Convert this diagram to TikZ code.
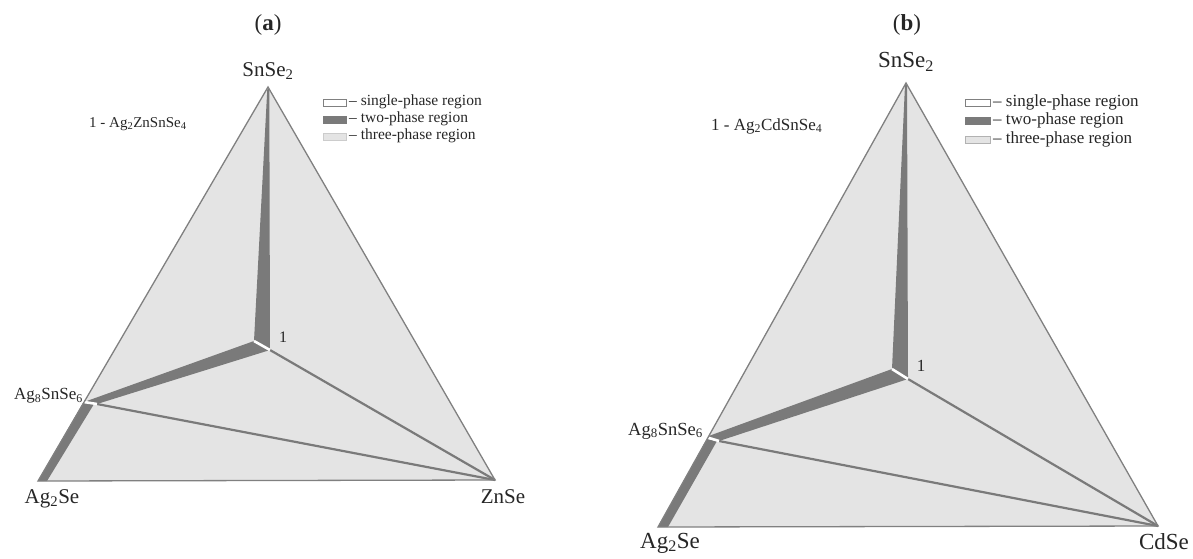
\documentclass[tikz,border=0pt]{standalone}
\usepackage{fontspec}
\setmainfont{Liberation Serif}
\usetikzlibrary{calc}
\newcommand{\setfs}[1]{\fontsize{#1}{#1}\selectfont}
\definecolor{lightfill}{RGB}{228,228,228}
\definecolor{bandgray}{RGB}{122,122,122}
\definecolor{edgegray}{RGB}{128,128,128}
\begin{document}
\begin{tikzpicture}[x=1pt,y=-1pt,
  tri/.style={fill=lightfill},
  edge/.style={draw=edgegray, line width=1.3pt, line join=miter},
  band/.style={fill=bandgray},
  sbar/.style={draw=white, line width=2.6pt},
  tie/.style={draw=bandgray, line width=2.2pt},
  lab/.style={inner sep=0pt, text=black!85},
  legbox/.style={draw=edgegray, line width=0.6pt, minimum width=23pt, minimum height=7pt, inner sep=0pt},
  legtxt/.style={inner sep=0pt, anchor=west, text=black!85}]
\useasboundingbox (0,0) rectangle (1193,558);

% ================= panel (a) =================
\coordinate (aT) at (268,87);
\coordinate (aL) at (38,481);
\coordinate (aR) at (495,480);
\coordinate (aJ1) at (254,341);
\coordinate (aJ2) at (270,350);
\coordinate (aM1) at (84,402);
\coordinate (aM2) at (97,404);
\fill[tri] (aT) -- (aL) -- (aR) -- cycle;
\fill[band] (267.3,89) -- (269.3,89) -- (aJ2) -- (aJ1) -- cycle;
\fill[band] (aJ1) -- (aJ2) -- (aM2) -- (aM1) -- cycle;
\fill[band] (83,403) -- (94,404) -- (47,481) -- (aL) -- cycle;
\draw[tie] (aJ2) -- (aR);
\draw[tie] (aM2) -- (aR);
\draw[sbar] (aJ1) -- (aJ2);
\draw[sbar] (aM1) -- (aM2);
\draw[edge] (aT) -- (aL) -- (aR) -- cycle;

\node[lab, font=\bfseries\setfs{23}] (aTitle) at (268,25) {\textmd{(}a\textmd{)}};
\node[lab, font=\setfs{21}] (aSn) at (268,71) {SnSe\textsubscript{2}};
\node[lab, font=\setfs{21}] (aAg) at (52,499) {Ag\textsubscript{2}Se};
\node[lab, font=\setfs{21}] (aZn) at (503,497) {ZnSe};
\node[lab, font=\setfs{17}, anchor=east] (aAg8) at (83,396) {Ag\textsubscript{8}SnSe\textsubscript{6}};
\node[lab, font=\setfs{16}] (aOne) at (283,337) {1};
\node[lab, font=\setfs{15}, anchor=west] (aKey) at (89,124) {1 - Ag\textsubscript{2}ZnSnSe\textsubscript{4}};

\node[legbox, fill=white] (aB1) at (334.5,103) {};
\node[legbox, fill=bandgray, draw=bandgray] (aB2) at (334.5,120) {};
\node[legbox, fill=lightfill, draw=black!20] (aB3) at (334.5,137) {};
\node[legtxt, font=\setfs{15.5}] (aT1) at (349,102) {-- single-phase region};
\node[legtxt, font=\setfs{15.5}] (aT2) at (349,119) {-- two-phase region};
\node[legtxt, font=\setfs{15.5}] (aT3) at (349,136) {-- three-phase region};

% ================= panel (b) =================
\coordinate (bT) at (906,83);
\coordinate (bL) at (658,527);
\coordinate (bR) at (1158,526);
\coordinate (bJ1) at (892,369);
\coordinate (bJ2) at (908,379);
\coordinate (bM1) at (706,437);
\coordinate (bM2) at (719,441);
\fill[tri] (bT) -- (bL) -- (bR) -- cycle;
\fill[band] (905,85) -- (907,85) -- (bJ2) -- (bJ1) -- cycle;
\fill[band] (bJ1) -- (bJ2) -- (bM2) -- (bM1) -- cycle;
\fill[band] (707,439) -- (717,441) -- (668,527) -- (bL) -- cycle;
\draw[tie] (bJ2) -- (bR);
\draw[tie] (bM2) -- (bR);
\draw[sbar] (bJ1) -- (bJ2);
\draw[sbar] (bM1) -- (bM2);
\draw[edge] (bT) -- (bL) -- (bR) -- cycle;

\node[lab, font=\bfseries\setfs{23}] (bTitle) at (907,25) {\textmd{(}b\textmd{)}};
\node[lab, font=\setfs{23}] (bSn) at (906,62) {SnSe\textsubscript{2}};
\node[lab, font=\setfs{23}] (bAg) at (670,543) {Ag\textsubscript{2}Se};
\node[lab, font=\setfs{23}] (bCd) at (1164,542) {CdSe};
\node[lab, font=\setfs{18.5}, anchor=east] (bAg8) at (703,431) {Ag\textsubscript{8}SnSe\textsubscript{6}};
\node[lab, font=\setfs{17}] (bOne) at (921,366) {1};
\node[lab, font=\setfs{17}, anchor=west] (bKey) at (711,126) {1 - Ag\textsubscript{2}CdSnSe\textsubscript{4}};

\node[legbox, fill=white, minimum width=25pt] (bB1) at (977.5,103) {};
\node[legbox, fill=bandgray, draw=bandgray, minimum width=25pt] (bB2) at (977.5,121) {};
\node[legbox, fill=lightfill, draw=black!30, minimum width=25pt] (bB3) at (977.5,140) {};
\node[legtxt, font=\setfs{17}] (bT1) at (993,102) {-- single-phase region};
\node[legtxt, font=\setfs{17}] (bT2) at (993,120) {-- two-phase region};
\node[legtxt, font=\setfs{17}] (bT3) at (993,139) {-- three-phase region};
\end{tikzpicture}
\end{document}
